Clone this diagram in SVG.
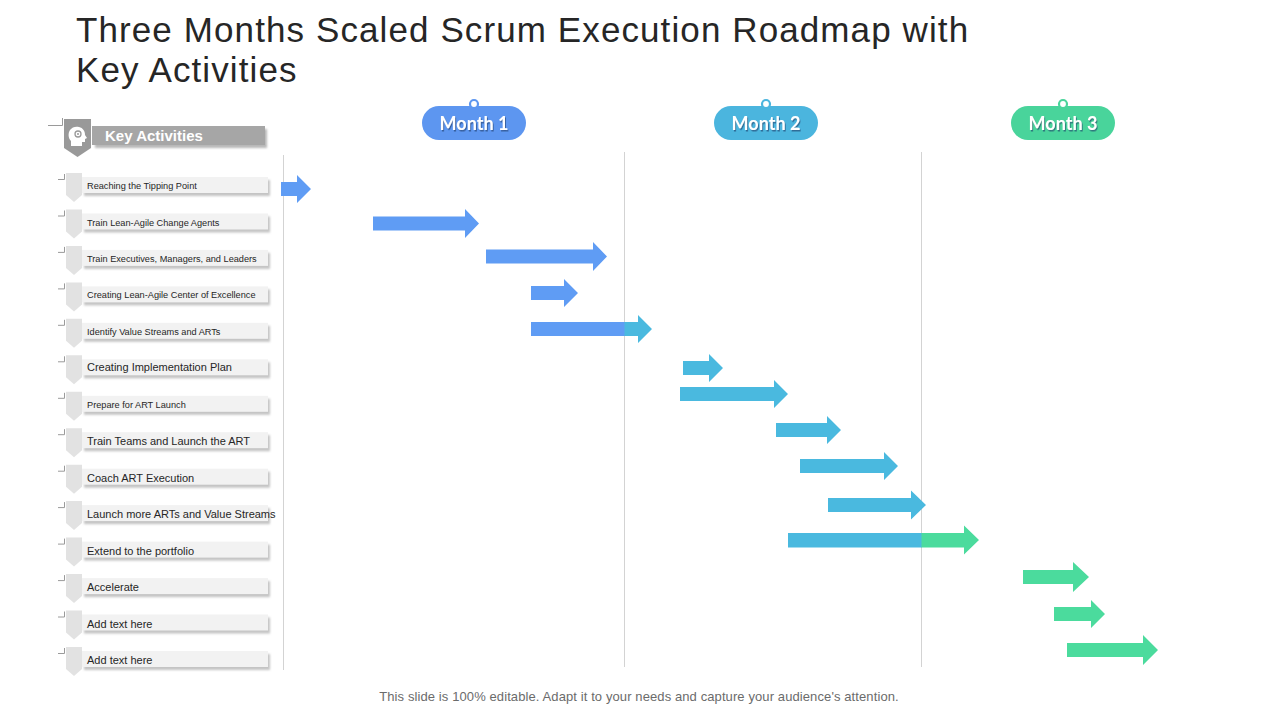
<svg xmlns="http://www.w3.org/2000/svg" width="1280" height="720" viewBox="0 0 1280 720">
<defs>
<filter id="sh" x="-5%" y="-30%" width="115%" height="180%"><feGaussianBlur stdDeviation="1.2"/></filter>
<filter id="ts" x="-10%" y="-30%" width="130%" height="160%"><feDropShadow dx="1" dy="1.5" stdDeviation="0.6" flood-color="#1a3a6a" flood-opacity="0.6"/></filter>
</defs>
<style>
.title{font-family:"Liberation Sans",Arial,sans-serif;font-size:35px;letter-spacing:1.1px;fill:#262626}
.foot{font-family:"Liberation Sans",Arial,sans-serif;font-size:13px;letter-spacing:0.1px;fill:#6b6b6b}
.rt{font-family:"Liberation Sans",Arial,sans-serif;font-size:9.2px;fill:#262626}
.rb{font-family:"Liberation Sans",Arial,sans-serif;font-size:11px;fill:#262626}
.tab{fill:#E2E2E2}
.bar{fill:#F2F2F2}
.bsh{fill:#C4C4C4;filter:url(#sh)}
.crn{fill:none;stroke:#9a9a9a;stroke-width:1}
.vl{stroke:#D3D3D3;stroke-width:1}
.mt{font-family:"Lato","Open Sans",sans-serif;font-size:18px;font-weight:bold;fill:#fff;text-anchor:middle}
.b{fill:#5F9CF4}.c{fill:#4AB9DF}.g{fill:#4BDB9D}
</style>
<rect width="1280" height="720" fill="#fff"/>
<text class="title" x="76" y="42">Three Months Scaled Scrum Execution Roadmap with</text>
<text class="title" x="76" y="82">Key Activities</text>

<g id="gridlines">
<line class="vl" x1="283.5" y1="155" x2="283.5" y2="670"/>
<line class="vl" x1="624.5" y1="152" x2="624.5" y2="667"/>
<line class="vl" x1="921.5" y1="152" x2="921.5" y2="667"/>
</g>

<g id="month1">
<rect x="422" y="106" width="104" height="34" rx="17" fill="#5D96F0"/>
<circle cx="474" cy="104" r="4" fill="#fff" stroke="#5D96F0" stroke-width="2.2"/>
<text class="mt" x="474" y="130" filter="url(#ts)">Month 1</text>
</g>
<g id="month2">
<rect x="714" y="106" width="104" height="34" rx="17" fill="#4BB5DE"/>
<circle cx="766" cy="104" r="4" fill="#fff" stroke="#4BB5DE" stroke-width="2.2"/>
<text class="mt" x="766" y="130" filter="url(#ts)">Month 2</text>
</g>
<g id="month3">
<rect x="1011" y="106" width="104" height="34" rx="17" fill="#49D49B"/>
<circle cx="1063" cy="104" r="4" fill="#fff" stroke="#49D49B" stroke-width="2.2"/>
<text class="mt" x="1063" y="130" filter="url(#ts)">Month 3</text>
</g>

<g id="header">
<path class="crn" d="M48,125.5 H62.5 V118"/>
<rect x="95" y="129" width="172" height="19" fill="#B8B8B8" filter="url(#sh)"/>
<rect x="92" y="126" width="173" height="19" fill="#A6A6A6"/>
<path d="M64,119 H91 V148 L77.5,157 L64,148 Z" fill="#999999"/>
<g fill="#fff">
<path d="M71,146 V141 C68,138 68,133 70,130 C72,127 76,126 79,127 C83,128 85,131 85,135 L87,138 L85,139 V142 L82,142 V146 Z"/>
</g>
<circle cx="78" cy="134" r="3" fill="none" stroke="#999" stroke-width="1.3"/>
<circle cx="78" cy="134" r="1" fill="#999"/>
<text x="105" y="141" font-family="Liberation Sans,Arial,sans-serif" font-size="15" font-weight="bold" fill="#fff">Key Activities</text>
</g>

<g id="row1" transform="translate(0,0)">
<path class="crn" d="M58,179.5 H64.5 V174"/>
<rect class="bsh" x="84" y="180" width="186" height="16"/>
<rect class="bar" x="81" y="177" width="187" height="16"/>
<path class="tab" d="M66,173 H82 V195 L74,202 L66,195 Z"/>
<text class="rt" x="87" y="189">Reaching the Tipping Point</text>
</g>
<g id="row2" transform="translate(0,36.5)">
<path class="crn" d="M58,179.5 H64.5 V174"/>
<rect class="bsh" x="84" y="180" width="186" height="16"/>
<rect class="bar" x="81" y="177" width="187" height="16"/>
<path class="tab" d="M66,173 H82 V195 L74,202 L66,195 Z"/>
<text class="rt" x="87" y="189">Train Lean-Agile Change Agents</text>
</g>
<g id="row3" transform="translate(0,72.9)">
<path class="crn" d="M58,179.5 H64.5 V174"/>
<rect class="bsh" x="84" y="180" width="186" height="16"/>
<rect class="bar" x="81" y="177" width="187" height="16"/>
<path class="tab" d="M66,173 H82 V195 L74,202 L66,195 Z"/>
<text class="rt" x="87" y="189">Train Executives, Managers, and Leaders</text>
</g>
<g id="row4" transform="translate(0,109.4)">
<path class="crn" d="M58,179.5 H64.5 V174"/>
<rect class="bsh" x="84" y="180" width="186" height="16"/>
<rect class="bar" x="81" y="177" width="187" height="16"/>
<path class="tab" d="M66,173 H82 V195 L74,202 L66,195 Z"/>
<text class="rt" x="87" y="189">Creating Lean-Agile Center of Excellence</text>
</g>
<g id="row5" transform="translate(0,145.8)">
<path class="crn" d="M58,179.5 H64.5 V174"/>
<rect class="bsh" x="84" y="180" width="186" height="16"/>
<rect class="bar" x="81" y="177" width="187" height="16"/>
<path class="tab" d="M66,173 H82 V195 L74,202 L66,195 Z"/>
<text class="rt" x="87" y="189">Identify Value Streams and ARTs</text>
</g>
<g id="row6" transform="translate(0,182.3)">
<path class="crn" d="M58,179.5 H64.5 V174"/>
<rect class="bsh" x="84" y="180" width="186" height="16"/>
<rect class="bar" x="81" y="177" width="187" height="16"/>
<path class="tab" d="M66,173 H82 V195 L74,202 L66,195 Z"/>
<text class="rb" x="87" y="189">Creating Implementation  Plan</text>
</g>
<g id="row7" transform="translate(0,218.8)">
<path class="crn" d="M58,179.5 H64.5 V174"/>
<rect class="bsh" x="84" y="180" width="186" height="16"/>
<rect class="bar" x="81" y="177" width="187" height="16"/>
<path class="tab" d="M66,173 H82 V195 L74,202 L66,195 Z"/>
<text class="rt" x="87" y="189">Prepare for ART Launch</text>
</g>
<g id="row8" transform="translate(0,255.2)">
<path class="crn" d="M58,179.5 H64.5 V174"/>
<rect class="bsh" x="84" y="180" width="186" height="16"/>
<rect class="bar" x="81" y="177" width="187" height="16"/>
<path class="tab" d="M66,173 H82 V195 L74,202 L66,195 Z"/>
<text class="rb" x="87" y="190">Train Teams and Launch the ART</text>
</g>
<g id="row9" transform="translate(0,291.7)">
<path class="crn" d="M58,179.5 H64.5 V174"/>
<rect class="bsh" x="84" y="180" width="186" height="16"/>
<rect class="bar" x="81" y="177" width="187" height="16"/>
<path class="tab" d="M66,173 H82 V195 L74,202 L66,195 Z"/>
<text class="rb" x="87" y="190">Coach ART Execution</text>
</g>
<g id="row10" transform="translate(0,328.1)">
<path class="crn" d="M58,179.5 H64.5 V174"/>
<rect class="bsh" x="84" y="180" width="186" height="16"/>
<rect class="bar" x="81" y="177" width="187" height="16"/>
<path class="tab" d="M66,173 H82 V195 L74,202 L66,195 Z"/>
<text class="rb" x="87" y="190">Launch more ARTs and Value Streams</text>
</g>
<g id="row11" transform="translate(0,364.6)">
<path class="crn" d="M58,179.5 H64.5 V174"/>
<rect class="bsh" x="84" y="180" width="186" height="16"/>
<rect class="bar" x="81" y="177" width="187" height="16"/>
<path class="tab" d="M66,173 H82 V195 L74,202 L66,195 Z"/>
<text class="rb" x="87" y="190">Extend to the portfolio</text>
</g>
<g id="row12" transform="translate(0,401.1)">
<path class="crn" d="M58,179.5 H64.5 V174"/>
<rect class="bsh" x="84" y="180" width="186" height="16"/>
<rect class="bar" x="81" y="177" width="187" height="16"/>
<path class="tab" d="M66,173 H82 V195 L74,202 L66,195 Z"/>
<text class="rb" x="87" y="190">Accelerate</text>
</g>
<g id="row13" transform="translate(0,437.5)">
<path class="crn" d="M58,179.5 H64.5 V174"/>
<rect class="bsh" x="84" y="180" width="186" height="16"/>
<rect class="bar" x="81" y="177" width="187" height="16"/>
<path class="tab" d="M66,173 H82 V195 L74,202 L66,195 Z"/>
<text class="rb" x="87" y="190">Add text here</text>
</g>
<g id="row14" transform="translate(0,474)">
<path class="crn" d="M58,179.5 H64.5 V174"/>
<rect class="bsh" x="84" y="180" width="186" height="16"/>
<rect class="bar" x="81" y="177" width="187" height="16"/>
<path class="tab" d="M66,173 H82 V195 L74,202 L66,195 Z"/>
<text class="rb" x="87" y="190">Add text here</text>
</g>

<g id="connectors">
<polygon id="a1" class="b" points="281,182 297,182 297,175 311,189 297,203 297,196 281,196"/>
<polygon id="a2" class="b" points="373,216.5 465,216.5 465,209 479,223.5 465,238 465,230.5 373,230.5"/>
<polygon id="a3" class="b" points="486,249.5 593,249.5 593,242 607,256.5 593,271 593,263.5 486,263.5"/>
<polygon id="a4" class="b" points="531,286 564,286 564,279 578,293 564,307 564,300 531,300"/>
<g id="a5">
<rect class="b" x="531" y="322" width="94" height="14"/>
<polygon class="c" points="624.5,322 638,322 638,315 652,329 638,343 638,336 624.5,336"/>
</g>
<polygon id="a6" class="c" points="683,361 709,361 709,354 723,368 709,382 709,375 683,375"/>
<polygon id="a7" class="c" points="680,387 774,387 774,380 788,394 774,408 774,401 680,401"/>
<polygon id="a8" class="c" points="776,423 827,423 827,416 841,430 827,444 827,437 776,437"/>
<polygon id="a9" class="c" points="800,459 884,459 884,452 898,466 884,480 884,473 800,473"/>
<polygon id="a10" class="c" points="828,498 911,498 911,490.5 926,505 911,519.5 911,512 828,512"/>
<g id="a11">
<rect class="c" x="788" y="533" width="134" height="14.5"/>
<polygon class="g" points="921.5,533 964,533 964,525.5 979,540 964,554.5 964,547.5 921.5,547.5"/>
</g>
<polygon id="a12" class="g" points="1023,570 1073,570 1073,562 1089,577 1073,592 1073,584 1023,584"/>
<polygon id="a13" class="g" points="1054,607 1091,607 1091,600 1105,614 1091,628 1091,621 1054,621"/>
<polygon id="a14" class="g" points="1067,643 1143,643 1143,635 1158,650 1143,665 1143,657 1067,657"/>
</g>

<text class="foot" x="639" y="701" text-anchor="middle">This slide is 100% editable. Adapt it to your needs and capture your audience's attention.</text>
</svg>
